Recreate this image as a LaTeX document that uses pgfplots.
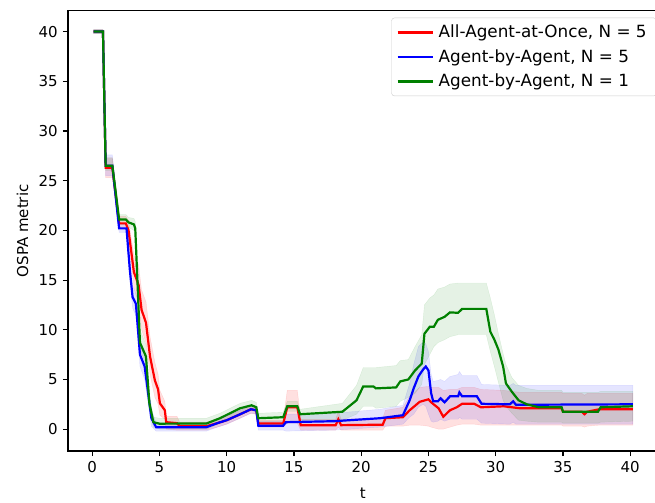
\documentclass[border=0pt]{standalone}
\usepackage{fontspec}
\setmainfont{DejaVu Sans}
\usepackage{pgfplots}
\usepackage{pgfplotstable}
\pgfplotsset{compat=1.18}
\usepgfplotslibrary{fillbetween}
\definecolor{mplgreen}{rgb}{0,0.5,0}

\pgfplotstableread{
t y lo hi
0.1 40 39.8 40.2
0.8 40 39.8 40.2
1.0 26.3 25.3 27.3
1.5 26.3 25.3 27.3
2.0 20.7 20.2 21.4
2.5 20.7 20.2 21.4
2.7 20.0 19.0 21.0
3.1 15.8 14.3 17.5
3.45 14.5 12.5 16.5
3.67 12.0 10.0 14.0
4.0 10.7 8.7 12.8
4.3 7.3 5.5 9.3
4.66 4.9 3.2 6.7
4.9 4.0 2.5 5.5
5.03 2.6 1.4 3.9
5.4 1.9 1.0 2.8
5.5 0.7 0.0 1.3
6.3 0.6 -0.1 1.3
6.5 0.3 -0.1 0.7
8.5 0.3 -0.1 0.7
9.3 0.6 0.2 1.0
10.0 0.9 0.5 1.3
11.0 1.5 1.1 1.9
11.8 2.0 1.6 2.4
12.2 1.9 1.5 2.3
12.35 0.57 0.2 0.9
14.2 0.57 0.2 0.9
14.5 2.2 0.6 3.9
15.25 2.2 0.6 3.9
15.5 0.4 -0.1 1.0
18.1 0.4 -0.1 1.0
18.3 1.0 0.2 1.8
18.5 0.4 -0.1 1.0
21.6 0.45 -0.1 1.1
21.8 1.1 0.3 1.9
23.1 1.2 0.3 2.2
23.6 1.9 0.4 3.3
24.35 2.75 0.4 4.2
25.0 3.0 0.3 4.3
25.2 2.7 0.2 4.2
25.75 2.1 0.0 4.2
26.1 1.25 0.0 3.9
26.6 1.9 0.2 4.0
27.1 2.2 0.4 4.0
27.5 2.55 0.5 4.2
28.4 2.55 0.5 4.2
28.9 2.2 0.4 4.0
30.6 2.3 0.4 3.9
31.8 2.1 0.4 3.7
34.9 2.1 0.4 3.7
35.0 1.75 0.3 3.6
36.4 1.75 0.3 3.6
36.6 1.5 0.2 3.4
36.8 1.75 0.3 3.6
37.7 2.0 0.4 3.6
40.2 2.0 0.4 3.6
}\Rdata

\pgfplotstableread{
t y lo hi
0.1 40 39.8 40.2
0.8 40 39.8 40.2
1.0 26.5 25.5 27.6
1.5 26.5 25.5 27.6
2.0 20.2 19.8 20.6
2.55 20.2 19.8 20.6
2.8 16.0 15.0 17.0
3.0 13.3 12.2 14.5
3.25 12.6 11.4 13.6
3.55 7.5 6.3 9.0
3.9 6.3 5.0 7.5
4.4 1.1 0.3 2.0
4.75 0.2 -0.2 0.6
8.5 0.2 -0.2 0.6
9.3 0.6 0.2 1.0
10.0 0.9 0.5 1.3
11.0 1.5 1.1 1.9
11.8 2.0 1.6 2.4
12.2 1.9 1.5 2.3
12.35 0.35 -0.1 0.8
14.2 0.35 -0.1 0.8
14.4 0.7 -0.2 1.5
18.0 0.8 -0.1 1.6
21.4 1.1 0.2 2.0
23.1 1.4 0.5 2.4
23.6 2.9 1.2 4.6
23.9 4.1 1.5 6.5
24.25 5.3 2.2 8.3
24.6 6.0 2.5 8.8
24.8 6.3 2.3 8.6
25.0 5.9 1.5 7.8
25.2 3.6 0.8 5.5
25.35 2.8 0.7 4.8
25.7 2.8 0.8 4.9
25.9 3.1 1.0 5.0
26.2 2.7 0.8 4.8
26.6 3.3 1.0 5.3
27.2 3.3 1.0 5.5
27.3 3.7 1.2 5.8
27.5 3.3 1.0 5.4
28.6 3.3 1.0 5.4
28.95 2.55 0.6 4.5
31.05 2.5 0.5 4.4
31.3 2.8 0.7 4.6
31.5 2.45 0.5 4.4
40.2 2.5 0.5 4.4
}\Bdata

\pgfplotstableread{
t y lo hi
0.1 40 39.8 40.2
0.8 40 39.8 40.2
1.0 26.5 26.0 27.3
1.5 26.5 26.0 27.3
2.0 21.1 20.6 21.6
2.5 21.1 20.6 21.6
2.7 20.8 20.3 21.3
3.1 20.6 20.0 21.2
3.2 20.2 19.5 20.9
3.35 15.3 14.5 16.5
3.55 8.7 8.0 10.0
4.0 7.3 6.5 8.5
4.25 2.6 2.0 3.5
4.55 0.7 0.2 1.2
5.0 0.55 0.0 1.1
8.5 0.57 0.0 1.1
9.5 1.1 0.6 1.6
11.0 2.1 1.6 2.6
11.85 2.4 1.9 2.9
12.2 2.2 1.7 2.7
12.35 1.1 0.6 1.6
14.2 1.2 0.7 1.7
14.5 2.3 1.8 2.8
15.25 2.3 1.8 2.8
15.45 1.5 0.9 2.0
18.6 1.75 0.9 2.6
19.65 2.9 1.5 4.4
20.15 4.3 2.3 6.2
20.9 4.3 2.3 6.2
21.1 4.1 2.1 6.2
22.6 4.2 2.3 6.4
22.9 4.8 2.8 6.9
23.5 5.0 3.2 7.0
24.0 5.9 3.6 8.3
24.5 6.6 4.5 9.5
24.7 9.6 6.5 12.5
25.1 10.3 7.5 13.2
25.4 10.3 8.3 13.5
25.7 11.0 8.7 14.1
26.2 11.3 9.0 14.3
26.6 11.75 9.3 14.6
27.2 11.7 9.5 14.7
27.5 12.1 9.5 14.7
29.3 12.1 9.5 14.7
29.6 9.8 7.8 13.2
29.9 9.0 6.3 11.5
30.2 8.0 4.7 9.6
30.55 6.3 2.9 7.6
30.76 4.6 2.3 6.5
31.2 3.76 1.6 5.2
31.7 2.9 0.9 4.4
32.3 2.5 0.8 4.1
33.2 2.2 0.7 3.9
34.9 2.2 0.7 3.9
35.0 1.75 0.6 3.7
37.6 1.75 0.6 3.7
37.8 2.2 0.7 3.8
40.2 2.3 0.8 3.8
}\Gdata

\begin{document}
\fontsize{15pt}{18pt}\selectfont
\begin{tikzpicture}
\begin{axis}[
  name=ax,
  scale only axis,
  width=589.8pt, height=440.3pt,
  xmin=-1.8, xmax=42.05,
  ymin=-2.2, ymax=42.1,
  xtick={0,5,...,40}, ytick={0,5,...,40},
  xtick pos=bottom, ytick pos=left,
  tick align=outside,
  major tick length=5.2pt,
  every tick/.style={black, line width=1.1pt},
  axis line style={line width=1.1pt},
  /pgf/number format/assume math mode=true,
  tick label style={font=\fontsize{15pt}{18pt}\selectfont},
  label style={font=\fontsize{15pt}{18pt}\selectfont},
  xlabel={t}, ylabel={OSPA metric},
  xlabel style={yshift=-5pt},
  legend cell align=left,
  legend style={at={(1,1)}, anchor=north east, xshift=-1pt, yshift=-7pt,
    draw=black!20, rounded corners=3pt, fill=white, fill opacity=0.8, text opacity=1,
    font=\fontsize{16.8pt}{19pt}\selectfont, row sep=5.5pt, inner xsep=5pt, inner ysep=5pt,
    nodes={inner xsep=5pt}},
  legend image code/.code={\draw[#1, line width=2.2pt] (0pt,0pt) -- (35pt,0pt);},
]
\addplot[draw=none, name path=Rhi, forget plot] table[x=t, y=hi]{\Rdata};
\addplot[draw=none, name path=Rlo, forget plot] table[x=t, y=lo]{\Rdata};
\addplot[fill=red, fill opacity=0.12, draw=red, draw opacity=0.12, forget plot] fill between[of=Rhi and Rlo];
\addplot[draw=none, name path=Bhi, forget plot] table[x=t, y=hi]{\Bdata};
\addplot[draw=none, name path=Blo, forget plot] table[x=t, y=lo]{\Bdata};
\addplot[fill=blue, fill opacity=0.1, draw=blue, draw opacity=0.1, forget plot] fill between[of=Bhi and Blo];
\addplot[draw=none, name path=Ghi, forget plot] table[x=t, y=hi]{\Gdata};
\addplot[draw=none, name path=Glo, forget plot] table[x=t, y=lo]{\Gdata};
\addplot[fill=mplgreen, fill opacity=0.1, draw=mplgreen, draw opacity=0.1, forget plot] fill between[of=Ghi and Glo];
\addplot[red, line width=2.2pt] table[x=t, y=y]{\Rdata};
\addlegendentry{All-Agent-at-Once, N = 5}
\addplot[blue, line width=2.2pt] table[x=t, y=y]{\Bdata};
\addlegendentry{Agent-by-Agent, N = 5}
\addplot[mplgreen, line width=2.2pt] table[x=t, y=y]{\Gdata};
\addlegendentry{Agent-by-Agent, N = 1}
\end{axis}
\pgfresetboundingbox
\path[use as bounding box] ([xshift=-68pt,yshift=-51pt]ax.south west) rectangle ([xshift=587pt,yshift=10.7pt]ax.north west);
\end{tikzpicture}
\end{document}
